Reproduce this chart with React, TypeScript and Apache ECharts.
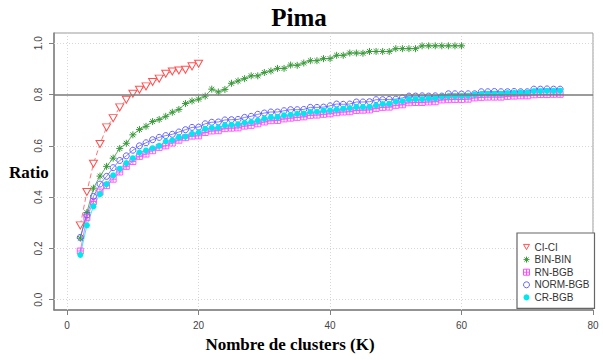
import React, { useEffect, useRef } from "react";
import * as echarts from "echarts";

// K (nombre de clusters) starts at 2 for every series
const K_START = 2;

const ciCi = [
  0.29, 0.42, 0.53, 0.607, 0.672, 0.708, 0.75, 0.78, 0.803, 0.819,
  0.832, 0.849, 0.862, 0.881, 0.89, 0.894, 0.897, 0.91, 0.92,
];

const binBin = [
  0.24, 0.34, 0.435, 0.482, 0.52, 0.552, 0.59, 0.61, 0.643, 0.664,
  0.676, 0.695, 0.703, 0.715, 0.731, 0.742, 0.765, 0.775, 0.782, 0.794,
  0.821, 0.81, 0.82, 0.844, 0.853, 0.862, 0.873, 0.873, 0.886, 0.892,
  0.902, 0.902, 0.915, 0.914, 0.923, 0.932, 0.932, 0.94, 0.94, 0.953,
  0.953, 0.962, 0.962, 0.961, 0.968, 0.968, 0.968, 0.968, 0.979, 0.979,
  0.979, 0.979, 0.99, 0.99, 0.99, 0.99, 0.99, 0.99, 0.99,
];

const rnBgb = [
  0.19, 0.32, 0.383, 0.42, 0.445, 0.47, 0.498, 0.52, 0.539, 0.559,
  0.568, 0.581, 0.594, 0.6, 0.611, 0.622, 0.632, 0.638, 0.639, 0.652,
  0.658, 0.659, 0.667, 0.669, 0.67, 0.677, 0.68, 0.686, 0.693, 0.698,
  0.699, 0.705, 0.708, 0.711, 0.713, 0.719, 0.72, 0.723, 0.725, 0.729,
  0.732, 0.733, 0.738, 0.739, 0.74, 0.746, 0.75, 0.751, 0.758, 0.76,
  0.768, 0.769, 0.769, 0.771, 0.772, 0.779, 0.78, 0.781, 0.781, 0.782,
  0.787, 0.789, 0.79, 0.79, 0.79, 0.793, 0.794, 0.795, 0.795, 0.799,
  0.8, 0.8, 0.801, 0.801,
];

const normBgb = [
  0.243, 0.331, 0.403, 0.451, 0.481, 0.515, 0.543, 0.561, 0.583, 0.6,
  0.612, 0.624, 0.633, 0.64, 0.645, 0.654, 0.663, 0.672, 0.673, 0.686,
  0.692, 0.693, 0.701, 0.702, 0.703, 0.711, 0.715, 0.723, 0.728, 0.732,
  0.732, 0.737, 0.741, 0.741, 0.742, 0.75, 0.75, 0.751, 0.756, 0.763,
  0.762, 0.763, 0.771, 0.771, 0.772, 0.78, 0.78, 0.781, 0.782, 0.787,
  0.794, 0.794, 0.795, 0.794, 0.795, 0.794, 0.803, 0.803, 0.802, 0.803,
  0.803, 0.811, 0.811, 0.812, 0.811, 0.811, 0.812, 0.811, 0.811, 0.821,
  0.821, 0.822, 0.821, 0.821,
];

const crBgb = [
  0.175, 0.29, 0.364, 0.412, 0.451, 0.485, 0.511, 0.533, 0.552, 0.574,
  0.582, 0.591, 0.6, 0.617, 0.621, 0.633, 0.636, 0.647, 0.652, 0.666,
  0.67, 0.671, 0.68, 0.682, 0.684, 0.69, 0.693, 0.698, 0.706, 0.711,
  0.712, 0.719, 0.721, 0.725, 0.726, 0.732, 0.733, 0.737, 0.738, 0.741,
  0.745, 0.747, 0.751, 0.751, 0.752, 0.758, 0.763, 0.764, 0.772, 0.774,
  0.781, 0.782, 0.782, 0.784, 0.785, 0.792, 0.793, 0.793, 0.794, 0.795,
  0.8, 0.802, 0.803, 0.803, 0.803, 0.806, 0.807, 0.808, 0.808, 0.813,
  0.813, 0.814, 0.814, 0.815,
];

const seriesNames = ["CI-CI", "BIN-BIN", "RN-BGB", "NORM-BGB", "CR-BGB"];
const xTickValues = [0, 20, 40, 60, 80];
const yTickValues = [0, 0.2, 0.4, 0.6, 0.8, 1.0];
const refLineValue = 0.8;
const titleText = "Pima";
const xTitle = "Nombre de clusters (K)";
const yTitle = "Ratio";

const SYM_TRI = "path://M0,0 L10,0 L5,8.66 Z";
const SYM_AST = "path://M0,5 L10,5 M5,0 L5,10 M1.5,1.5 L8.5,8.5 M1.5,8.5 L8.5,1.5";
const SYM_SQP = "path://M0,0 L10,0 L10,10 L0,10 Z M0,5 L10,5 M5,0 L5,10";
const SYM_CIR = "circle";

const C_RED = "#ff5050";
const C_GREEN = "#3a9a3a";
const C_MAG = "#ff4cff";
const C_BLUE = "#6262ff";
const C_CYAN = "#00e8ee";
const NONE = "rgba(0,0,0,0)";

const toPairs = (vals: number[]) => vals.map((v, i) => [K_START + i, v]);

const SANS = "'Liberation Sans', Arial, sans-serif";
const SERIF = "'Liberation Serif', 'Times New Roman', serif";

function makeSeries(
  name: string,
  vals: number[],
  symbol: string,
  size: number | number[],
  color: string,
  fill: string,
  borderWidth: number,
  dashed: boolean,
  z: number
): any {
  return {
    type: "line",
    name,
    data: toPairs(vals),
    symbol,
    symbolSize: size,
    showSymbol: true,
    z,
    itemStyle: { color: fill, borderColor: color, borderWidth },
    lineStyle: { color, width: 0.8, type: dashed ? [5, 3] : "solid" },
    emphasis: { disabled: true },
  };
}

export default function App() {
  const ref = useRef<HTMLDivElement>(null);

  useEffect(() => {
    document.body.style.margin = "0";
    const chart = echarts.init(ref.current!, undefined, { renderer: "svg" });

    const gridLines = [
      ...xTickValues.map((v) => ({ xAxis: v })),
      ...yTickValues.filter((v) => v !== refLineValue).map((v) => ({ yAxis: v })),
    ];

    const s1 = makeSeries(seriesNames[0], ciCi, SYM_TRI, [8, 7], C_RED, "#fff", 1, true, 3);
    s1.markLine = {
      silent: true,
      z: 1,
      symbol: ["none", "none"],
      label: { show: false },
      lineStyle: { type: [1, 2], color: "#d6d6d6", width: 1 },
      data: gridLines,
    };
    const s2 = makeSeries(seriesNames[1], binBin, SYM_AST, 7, C_GREEN, NONE, 1, false, 3);
    const s3 = makeSeries(seriesNames[2], rnBgb, SYM_SQP, 6, C_MAG, NONE, 0.9, false, 3);
    const s4 = makeSeries(seriesNames[3], normBgb, SYM_CIR, 6, C_BLUE, NONE, 1, false, 3);
    const s5 = makeSeries(seriesNames[4], crBgb, SYM_CIR, 6, C_CYAN, C_CYAN, 0, false, 3);
    s5.markLine = {
      silent: true,
      symbol: ["none", "none"],
      label: { show: false },
      lineStyle: { type: "solid", color: "#7a7a7a", width: 1.5 },
      data: [{ yAxis: refLineValue }],
    };

    const legendIcons = [SYM_TRI, SYM_AST, SYM_SQP, SYM_CIR, SYM_CIR];
    const legendStyles = [
      { color: NONE, borderColor: C_RED, borderWidth: 1 },
      { color: NONE, borderColor: C_GREEN, borderWidth: 1 },
      { color: NONE, borderColor: C_MAG, borderWidth: 1 },
      { color: NONE, borderColor: C_BLUE, borderWidth: 1 },
      { color: C_CYAN, borderColor: C_CYAN, borderWidth: 0 },
    ];

    const option: any = {
      animation: false,
      backgroundColor: "#fff",
      grid: {
        left: 54,
        right: 10,
        top: 33,
        bottom: 50,
        show: true,
        borderColor: "#9a9a9a",
        borderWidth: 1,
        backgroundColor: NONE,
      },
      xAxis: {
        type: "value",
        min: -2,
        max: 80,
        axisLine: { show: true, onZero: false, lineStyle: { color: "#808080", width: 1.5 } },
        axisTick: { show: true, length: 5, customValues: xTickValues, lineStyle: { color: "#808080" } },
        axisLabel: {
          customValues: xTickValues,
          margin: 10,
          fontFamily: SANS,
          fontSize: 10,
          color: "#444",
        },
        splitLine: { show: false },
      },
      yAxis: {
        type: "value",
        min: -0.04,
        max: 1.04,
        axisLine: { show: true, onZero: false, lineStyle: { color: "#808080", width: 1.5 } },
        axisTick: { show: true, length: 5, customValues: yTickValues, lineStyle: { color: "#808080" } },
        axisLabel: {
          customValues: yTickValues,
          rotate: 90,
          margin: 11,
          fontFamily: SANS,
          fontSize: 10,
          color: "#444",
          formatter: (v: number) => v.toFixed(1),
        },
        splitLine: { show: false },
      },
      legend: {
        orient: "vertical",
        left: 517,
        top: 233,
        selectedMode: false,
        itemWidth: 6,
        itemHeight: 6,
        itemGap: 0.6,
        padding: [8, 5, 5, 6],
        borderColor: "#666",
        borderWidth: 1.2,
        backgroundColor: "#fff",
        textStyle: { fontFamily: SANS, fontSize: 10, color: "#333", lineHeight: 12 },
        data: seriesNames.map((n, i) => ({
          name: n,
          icon: legendIcons[i],
          itemStyle: legendStyles[i],
        })),
      },
      graphic: [
        {
          type: "text",
          x: 299,
          y: 17,
          style: {
            text: titleText,
            font: `bold 25px ${SERIF}`,
            fill: "#000",
            textAlign: "center",
            textVerticalAlign: "middle",
          },
        },
        {
          type: "text",
          x: 9,
          y: 172,
          style: {
            text: yTitle,
            font: `bold 17px ${SERIF}`,
            fill: "#000",
            textAlign: "left",
            textVerticalAlign: "middle",
          },
        },
        {
          type: "text",
          x: 290,
          y: 344,
          style: {
            text: xTitle,
            font: `bold 17px ${SERIF}`,
            fill: "#000",
            textAlign: "center",
            textVerticalAlign: "middle",
          },
        },
      ],
      series: [s1, s2, s3, s4, s5],
    };

    chart.setOption(option);
    return () => chart.dispose();
  }, []);

  return <div ref={ref} style={{ width: 603, height: 360 }} />;
}
